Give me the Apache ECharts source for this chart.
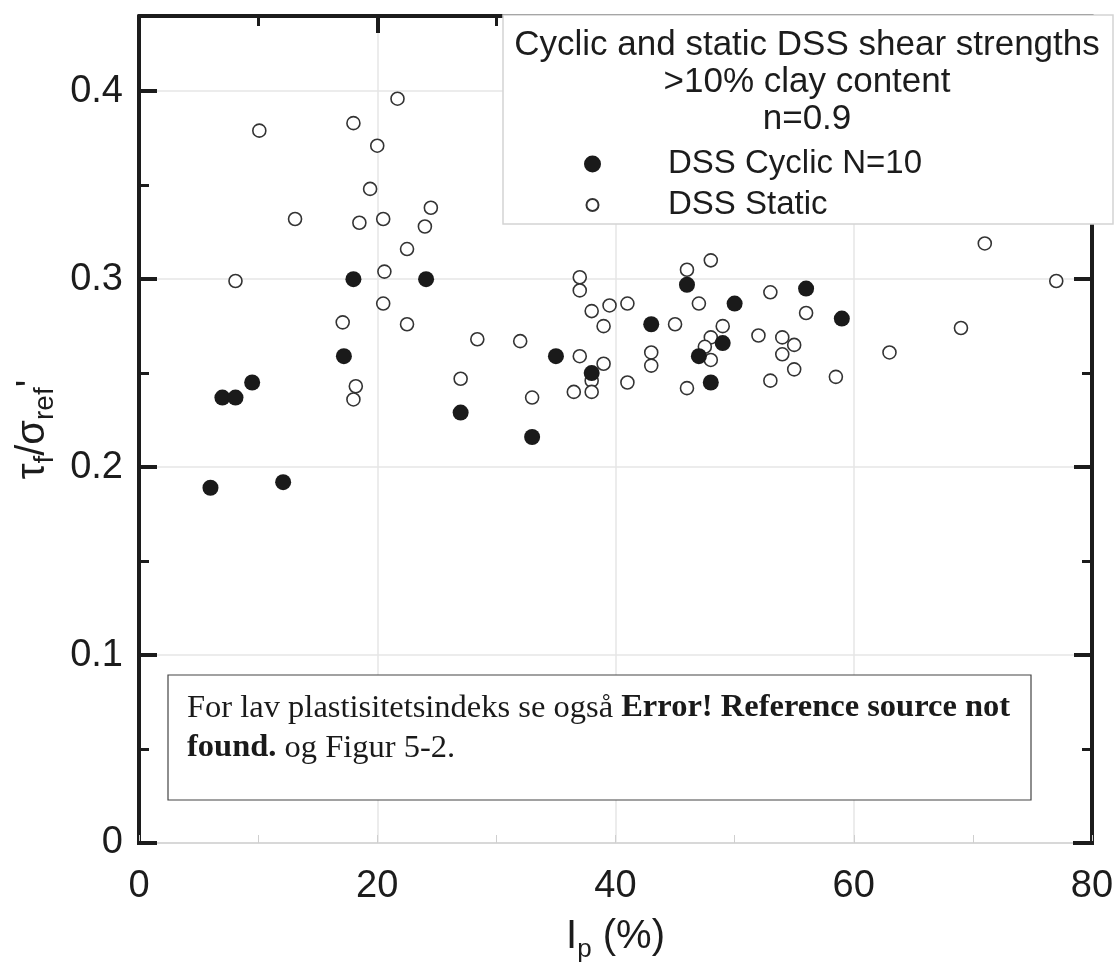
<!DOCTYPE html>
<html>
<head>
<meta charset="utf-8">
<title>Cyclic and static DSS shear strengths</title>
<script src="https://cdn.jsdelivr.net/npm/echarts@6/dist/echarts.min.js"></script>
<style>
  html, body { margin: 0; padding: 0; background: #fff; }
  #chart { width: 1117px; height: 962px; }
</style>
</head>
<body>
<div id="chart"></div>
<script>
// Plasticity index Ip (%) and normalised shear strength tau_f / sigma'_ref
const cyclicIp  = [6.0, 7.0, 8.1, 9.5, 12.1, 17.2, 18.0, 24.1, 27.0, 33.0, 35.0, 38.0, 43.0, 46.0, 47.0, 48.0, 49.0, 50.0, 56.0, 59.0];
const cyclicTau = [0.189, 0.237, 0.237, 0.245, 0.192, 0.259, 0.300, 0.300, 0.229, 0.216, 0.259, 0.250, 0.276, 0.297, 0.259, 0.245, 0.266, 0.287, 0.295, 0.279];

const staticIp  = [21.7, 18.0, 10.1, 20.0, 19.4, 24.5, 13.1, 18.5, 20.5, 24.0, 22.5, 20.6, 8.1, 20.5, 17.1, 22.5, 28.4, 32.0, 27.0, 18.2,
                   18.0, 33.0, 37.0, 37.0, 38.0, 39.5, 41.0, 39.0, 37.0, 39.0, 38.0, 36.5, 38.0, 41.0, 43.0, 43.0, 45.0, 46.0, 48.0, 47.0,
                   49.0, 48.0, 47.5, 48.0, 46.0, 53.0, 52.0, 54.0, 55.0, 54.0, 55.0, 53.0, 56.0, 58.5, 71.0, 77.0, 69.0, 63.0];
const staticTau = [0.396, 0.383, 0.379, 0.371, 0.348, 0.338, 0.332, 0.330, 0.332, 0.328, 0.316, 0.304, 0.299, 0.287, 0.277, 0.276, 0.268, 0.267, 0.247, 0.243,
                   0.236, 0.237, 0.301, 0.294, 0.283, 0.286, 0.287, 0.275, 0.259, 0.255, 0.246, 0.240, 0.240, 0.245, 0.261, 0.254, 0.276, 0.305, 0.310, 0.287,
                   0.275, 0.269, 0.264, 0.257, 0.242, 0.293, 0.270, 0.269, 0.265, 0.260, 0.252, 0.246, 0.282, 0.248, 0.319, 0.299, 0.274, 0.261];

const seriesNames = ['DSS Cyclic N=10', 'DSS Static'];
const titleLines = ['Cyclic and static DSS shear strengths', '>10% clay content', 'n=0.9'];
const xTickLabels = ['0', '20', '40', '60', '80'];
const yTickLabels = ['0', '0.1', '0.2', '0.3', '0.4'];

const SANS = "'Liberation Sans', Arial, Helvetica, sans-serif";
const SERIF = "'Liberation Serif', 'Times New Roman', serif";
const INK = '#1c1c1c';
const GRID_GRAY = '#e6e6e6';

const pairs = (xs, ys) => xs.map((x, i) => [x, ys[i]]);
const near = (v, step) => Math.abs(v / step - Math.round(v / step)) < 1e-6;

// Plot frame shared by all grids (stacked grids carry the extra tick sets)
const frame = { left: 139, right: 25, top: 16, bottom: 119, containLabel: false, outerBoundsMode: 'none' };
const X_RANGE = { min: 0, max: 80 };
const Y_RANGE = { min: 0, max: 0.44 };

const hiddenX = gridIndex => ({ type: 'value', gridIndex, ...X_RANGE, show: false });

// small open circle inside a padded square so the legend icon stays smaller than the filled one
const OPEN_LEGEND_ICON = 'path://M0,0 M17,17 M8.5,2.5 A6,6 0 1,1 8.5,14.5 A6,6 0 1,1 8.5,2.5 Z';

const chart = echarts.init(document.getElementById('chart'), null, { renderer: 'canvas' });

const option = {
  backgroundColor: '#fff',
  animation: false,
  grid: [ { ...frame }, { ...frame }, { ...frame }, { ...frame } ],
  xAxis: [
    { // bottom edge: labels and faint ticks every 10
      type: 'value', gridIndex: 0, position: 'bottom', ...X_RANGE, interval: 10,
      axisLine: { show: true, onZero: false, lineStyle: { color: '#d8d8d8', width: 2 } },
      axisTick: { show: true, inside: true, length: 8, lineStyle: { color: '#cfcfcf', width: 1 } },
      splitLine: { show: false },
      axisLabel: {
        margin: 25, fontFamily: SANS, fontSize: 38, color: INK,
        formatter: v => near(v, 20) ? xTickLabels[Math.round(v / 20)] : ''
      },
      name: '{a|I}{s|p}{a| (%)}',
      nameLocation: 'middle', nameGap: 68,
      nameTextStyle: {
        rich: {
          a: { fontFamily: SANS, fontSize: 40, color: INK, lineHeight: 42 },
          s: { fontFamily: SANS, fontSize: 26, color: INK, lineHeight: 20, padding: [26, 0, 0, 0] }
        }
      }
    },
    { // top edge: black frame, major and minor ticks, vertical grid lines
      type: 'value', gridIndex: 1, position: 'top', ...X_RANGE, interval: 20,
      axisLine: { show: true, onZero: false, lineStyle: { color: INK, width: 4 } },
      axisTick: { show: true, inside: true, length: 17, lineStyle: { color: INK, width: 4 } },
      minorTick: { show: true, splitNumber: 2, length: 10, lineStyle: { color: INK, width: 3 } },
      splitLine: { show: true, lineStyle: { color: GRID_GRAY, width: 1.5 } },
      axisLabel: { show: false }
    },
    hiddenX(2),
    hiddenX(3)
  ],
  yAxis: [
    { // left edge: frame, labels, major ticks, horizontal grid lines
      type: 'value', gridIndex: 0, position: 'left', ...Y_RANGE, interval: 0.1,
      axisLine: { show: true, onZero: false, lineStyle: { color: INK, width: 4 } },
      axisTick: { show: true, inside: true, length: 18, lineStyle: { color: INK, width: 4 } },
      splitLine: { show: true, lineStyle: { color: GRID_GRAY, width: 1.5 } },
      axisLabel: {
        margin: 16, fontFamily: SANS, fontSize: 38, color: INK,
        formatter: v => near(v, 0.1) ? yTickLabels[Math.round(v * 10)] : ''
      },
      name: '{a|τ}{s|f}{a|/σ}{s|ref}{a|\'}',
      nameLocation: 'middle', nameGap: 78, nameRotate: 90,
      nameTextStyle: {
        rich: {
          a: { fontFamily: SANS, fontSize: 40, color: INK, lineHeight: 42 },
          s: { fontFamily: SANS, fontSize: 28, color: INK, lineHeight: 22, padding: [24, 0, 0, 0] }
        }
      }
    },
    { // right edge: frame and major ticks
      type: 'value', gridIndex: 1, position: 'right', ...Y_RANGE, interval: 0.1,
      axisLine: { show: true, onZero: false, lineStyle: { color: INK, width: 4 } },
      axisTick: { show: true, inside: true, length: 18, lineStyle: { color: INK, width: 4 } },
      splitLine: { show: false }, axisLabel: { show: false }
    },
    { // left edge: minor ticks every 0.05
      type: 'value', gridIndex: 2, position: 'left', ...Y_RANGE, interval: 0.05,
      axisLine: { show: false, onZero: false },
      axisTick: { show: true, inside: true, length: 10, lineStyle: { color: INK, width: 3 } },
      splitLine: { show: false }, axisLabel: { show: false }
    },
    { // right edge: minor ticks every 0.05
      type: 'value', gridIndex: 3, position: 'right', ...Y_RANGE, interval: 0.05,
      axisLine: { show: false, onZero: false },
      axisTick: { show: true, inside: true, length: 10, lineStyle: { color: INK, width: 3 } },
      splitLine: { show: false }, axisLabel: { show: false }
    }
  ],
  legend: {
    data: [
      { name: seriesNames[0], icon: 'circle' },
      { name: seriesNames[1], icon: OPEN_LEGEND_ICON }
    ],
    orient: 'vertical',
    left: 578, top: 141,
    itemWidth: 17, itemHeight: 17, itemGap: 5,
    selectedMode: false,
    textStyle: { fontFamily: SANS, fontSize: 33, color: INK, lineHeight: 36, padding: [0, 0, 0, 62] }
  },
  series: [
    {
      name: seriesNames[1], type: 'scatter', xAxisIndex: 0, yAxisIndex: 0,
      symbol: 'circle', symbolSize: 13,
      itemStyle: { color: '#ffffff', borderColor: '#333', borderWidth: 1.6, opacity: 1 },
      data: pairs(staticIp, staticTau), z: 3
    },
    {
      name: seriesNames[0], type: 'scatter', xAxisIndex: 0, yAxisIndex: 0,
      symbol: 'circle', symbolSize: 16,
      itemStyle: { color: '#1a1a1a', borderColor: '#1a1a1a', borderWidth: 0, opacity: 1 },
      data: pairs(cyclicIp, cyclicTau), z: 4
    }
  ]
};

chart.setOption(option);

// Legend panel, annotation box and the black frame corners along the bottom edge
const origin = chart.convertToPixel({ xAxisIndex: 0, yAxisIndex: 0 }, [0, 0]);
const farCorner = chart.convertToPixel({ xAxisIndex: 0, yAxisIndex: 0 }, [80, 0]);

chart.setOption({
  graphic: [
    {
      type: 'rect', z: 3, silent: true,
      shape: { x: 503, y: 15, width: 610, height: 209 },
      style: { fill: '#fff', stroke: '#d4d4d4', lineWidth: 1.5 }
    },
    ...titleLines.map((t, i) => ({
      type: 'text', z: 6, silent: true,
      x: 807, y: 45 + i * 37,
      style: { text: t, fontFamily: SANS, fontSize: 35, fill: INK, align: 'center', verticalAlign: 'middle' }
    })),
    {
      type: 'rect', z: 6, silent: true,
      shape: { x: 168, y: 675, width: 863, height: 125 },
      style: { fill: '#fff', stroke: '#444', lineWidth: 1.2 }
    },
    {
      type: 'text', z: 7, silent: true,
      x: 187, y: 688,
      style: {
        text: '{n|For lav plastisitetsindeks se også }{b|Error! Reference source not}\n{b|found.}{n| og Figur 5-2.}',
        rich: {
          n: { fontFamily: SERIF, fontSize: 32.5, fill: '#1a1a1a', lineHeight: 40 },
          b: { fontFamily: SERIF, fontSize: 32.5, fontWeight: 'bold', fill: '#1a1a1a', lineHeight: 40 }
        }
      }
    },
    {
      type: 'line', z: 5, silent: true,
      shape: { x1: origin[0] - 2, y1: origin[1], x2: origin[0] + 18, y2: origin[1] },
      style: { stroke: INK, lineWidth: 4 }
    },
    {
      type: 'line', z: 5, silent: true,
      shape: { x1: farCorner[0] - 19, y1: farCorner[1], x2: farCorner[0] + 2, y2: farCorner[1] },
      style: { stroke: INK, lineWidth: 4 }
    }
  ]
});
</script>
</body>
</html>
